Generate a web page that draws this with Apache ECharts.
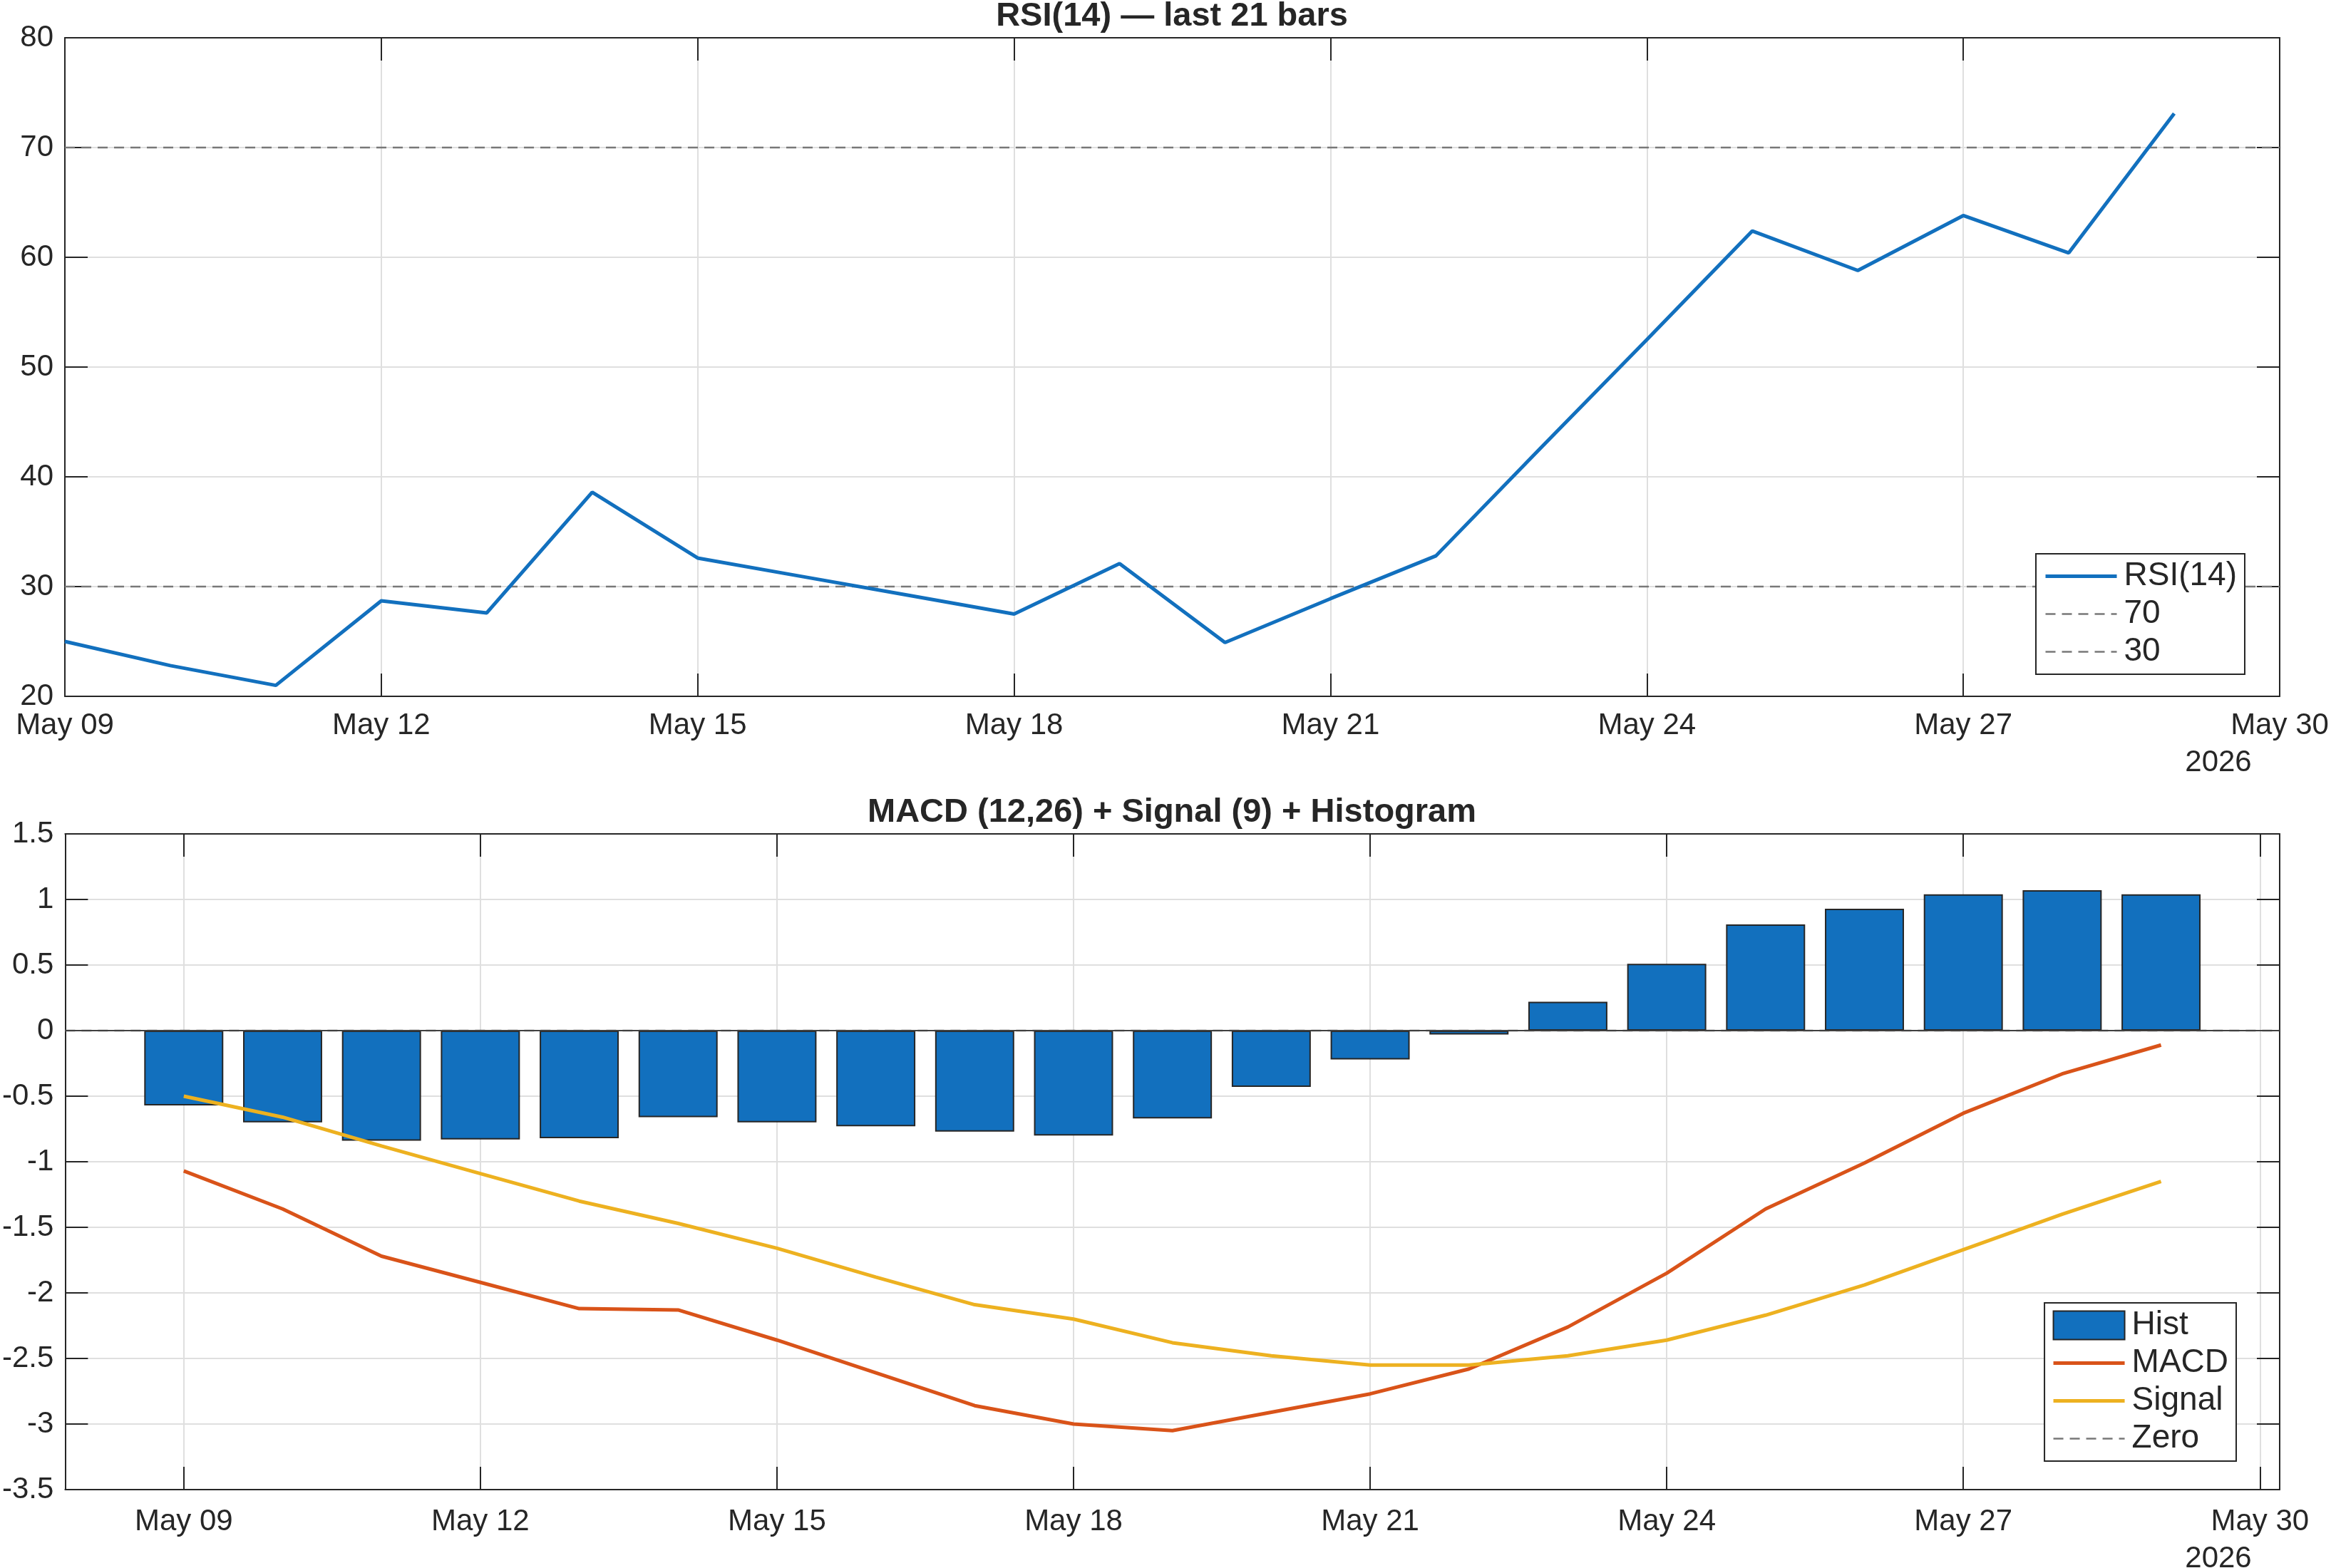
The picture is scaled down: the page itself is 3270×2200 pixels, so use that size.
<!DOCTYPE html>
<html>
<head>
<meta charset="utf-8">
<script src="https://cdn.jsdelivr.net/npm/echarts@6/dist/echarts.min.js"></script>
<style>
html,body{margin:0;padding:0;background:#fff}
#chart{width:3270px;height:2200px}
</style>
</head>
<body>
<div id="chart"></div>
<script>
// days of May 2026, one bar per day
const days = [9,10,11,12,13,14,15,16,17,18,19,20,21,22,23,24,25,26,27,28,29];
const rsi = [25.0,22.8,21.0,28.7,27.6,38.6,32.6,30.9,29.2,27.5,32.1,24.9,28.9,32.8,42.7,52.5,62.4,58.8,63.8,60.4,73.1];
const hist = [-0.57,-0.70,-0.84,-0.83,-0.82,-0.66,-0.70,-0.73,-0.77,-0.80,-0.67,-0.43,-0.22,-0.03,0.22,0.51,0.81,0.93,1.04,1.07,1.04];
const macd = [-1.07,-1.36,-1.72,-1.92,-2.12,-2.13,-2.36,-2.61,-2.86,-3.00,-3.05,-2.91,-2.77,-2.58,-2.26,-1.85,-1.36,-1.01,-0.63,-0.33,-0.11];
const signal = [-0.50,-0.66,-0.88,-1.09,-1.30,-1.47,-1.66,-1.88,-2.09,-2.20,-2.38,-2.48,-2.55,-2.55,-2.48,-2.36,-2.17,-1.94,-1.67,-1.40,-1.15];
const rsiLevels = [70, 30];
const dateTicks = [9,12,15,18,21,24,27,30];
const titles = ['RSI(14) \u2014 last 21 bars', 'MACD (12,26) + Signal (9) + Histogram'];
const yearText = '2026';

const rsiRange = [9, 30];
const macdRange = [7.8, 30.2];

const blue = '#1270BE', orange = '#D95319', yellow = '#EDB120';
const ink = '#262626', gridColor = '#dfdfdf', refColor = '#787878';
const FONT = '"Liberation Sans", Arial, Helvetica, sans-serif';
const LW = 5, DASH = [14, 9];

const chart = echarts.init(document.getElementById('chart'));

const fmtDay = v => 'May ' + String(Math.round(v)).padStart(2, '0');
const axisLine = {show: true, onZero: false, lineStyle: {color: ink, width: 2}};
const tick = {show: true, inside: true, length: 32, lineStyle: {color: ink, width: 2}};
const split = {show: true, lineStyle: {color: gridColor, width: 2}};
const lbl = {fontSize: 42, color: ink, fontFamily: FONT};

function xBottom(grid, range, margin, extra) {
    return Object.assign({
        type: 'value', gridIndex: grid, position: 'bottom', min: range[0], max: range[1],
        axisLine: axisLine, axisTick: tick, splitLine: split,
        axisLabel: Object.assign({margin: margin, formatter: fmtDay}, lbl)
    }, extra || {});
}
function xTop(grid, range, extra) {
    return Object.assign({
        type: 'value', gridIndex: grid, position: 'top', min: range[0], max: range[1],
        axisLine: axisLine, axisTick: tick, splitLine: {show: false}, axisLabel: {show: false}
    }, extra || {});
}
function yLeft(grid, min, max, step) {
    return {
        type: 'value', gridIndex: grid, position: 'left', min: min, max: max, interval: step,
        axisLine: axisLine, axisTick: tick, splitLine: split,
        axisLabel: Object.assign({margin: 16}, lbl)
    };
}
function yRight(grid, min, max, step) {
    return {
        type: 'value', gridIndex: grid, position: 'right', min: min, max: max, interval: step,
        axisLine: axisLine, axisTick: tick, splitLine: {show: false}, axisLabel: {show: false}
    };
}

const legendBase = {
    orient: 'vertical', itemWidth: 100, itemGap: 0, selectedMode: false,
    borderColor: ink, borderWidth: 2, backgroundColor: '#fff', borderRadius: 0,
    itemStyle: {opacity: 0},
    textStyle: {fontSize: 46, lineHeight: 53, color: ink, fontFamily: FONT, padding: [0, 0, 0, 5]}
};
const solidItem = name => ({name: name, lineStyle: {width: LW, type: 'solid'}});
const dashItem = name => ({name: name, lineStyle: {width: 2.5, type: DASH}});

const option = {
    animation: false,
    backgroundColor: '#fff',
    textStyle: {fontFamily: FONT},
    grid: [
        {left: 91, right: 72, top: 53, height: 924},
        {left: 91, right: 72, top: 1170, height: 920}
    ],
    xAxis: [
        xBottom(0, rsiRange, 20, {interval: 3}),
        xTop(0, rsiRange, {interval: 3}),
        xBottom(1, macdRange, 24, {
            axisTick: Object.assign({customValues: dateTicks}, tick),
            axisLabel: Object.assign({margin: 24, formatter: fmtDay, customValues: dateTicks}, lbl)
        }),
        xTop(1, macdRange, {axisTick: Object.assign({customValues: dateTicks}, tick)})
    ],
    yAxis: [
        yLeft(0, 20, 80, 10),
        yRight(0, 20, 80, 10),
        yLeft(1, -3.5, 1.5, 0.5),
        yRight(1, -3.5, 1.5, 0.5)
    ],
    legend: [
        Object.assign({}, legendBase, {
            data: [solidItem('RSI(14)'), dashItem(String(rsiLevels[0])), dashItem(String(rsiLevels[1]))],
            right: 121, top: 777, itemHeight: 20, padding: [5, 11, 5, 11]
        }),
        Object.assign({}, legendBase, {
            data: [
                {name: 'Hist', icon: 'rect', itemStyle: {opacity: 1, borderColor: ink, borderWidth: 2}},
                solidItem('MACD'), solidItem('Signal'), dashItem('Zero')
            ],
            right: 133, top: 1828, itemHeight: 40, padding: [5, 11, 5, 10]
        })
    ],
    graphic: [
        {type: 'text', x: 1644, y: 23, style: {text: titles[0], align: 'center', verticalAlign: 'middle', font: 'bold 47px ' + FONT, fill: ink}},
        {type: 'text', x: 1644, y: 1140, style: {text: titles[1], align: 'center', verticalAlign: 'middle', font: 'bold 47px ' + FONT, fill: ink}},
        {type: 'text', x: 3112, y: 1070, style: {text: yearText, align: 'center', verticalAlign: 'middle', font: '42px ' + FONT, fill: ink}},
        {type: 'text', x: 3112, y: 2187, style: {text: yearText, align: 'center', verticalAlign: 'middle', font: '42px ' + FONT, fill: ink}}
    ],
    series: [
        {
            name: 'RSI(14)', type: 'line', xAxisIndex: 0, yAxisIndex: 0, z: 4,
            data: days.map((d, i) => [d, rsi[i]]), symbol: 'none',
            lineStyle: {color: blue, width: LW}, itemStyle: {color: blue}
        },
        ...rsiLevels.map(lv => ({
            name: String(lv), type: 'line', xAxisIndex: 0, yAxisIndex: 0, z: 3,
            data: [[rsiRange[0], lv], [rsiRange[1], lv]], symbol: 'none',
            lineStyle: {color: refColor, width: 2.5, type: DASH}, itemStyle: {color: refColor}
        })),
        {
            name: 'Zero', type: 'line', xAxisIndex: 2, yAxisIndex: 2, z: 2,
            data: [[macdRange[0], 0], [macdRange[1], 0]], symbol: 'none',
            lineStyle: {color: refColor, width: 2.5, type: DASH}, itemStyle: {color: refColor}
        },
        {
            name: 'Hist', type: 'bar', xAxisIndex: 2, yAxisIndex: 2, z: 3,
            data: days.map((d, i) => [d, hist[i]]), barWidth: '80%',
            itemStyle: {color: blue, borderColor: ink, borderWidth: 2},
            markLine: {
                silent: true, symbol: 'none', label: {show: false},
                lineStyle: {color: '#404040', width: 2, type: 'solid'},
                data: [{yAxis: 0}]
            }
        },
        {
            name: 'MACD', type: 'line', xAxisIndex: 2, yAxisIndex: 2, z: 5,
            data: days.map((d, i) => [d, macd[i]]), symbol: 'none',
            lineStyle: {color: orange, width: LW}, itemStyle: {color: orange}
        },
        {
            name: 'Signal', type: 'line', xAxisIndex: 2, yAxisIndex: 2, z: 5,
            data: days.map((d, i) => [d, signal[i]]), symbol: 'none',
            lineStyle: {color: yellow, width: LW}, itemStyle: {color: yellow}
        }
    ]
};

chart.setOption(option);
</script>
</body>
</html>
